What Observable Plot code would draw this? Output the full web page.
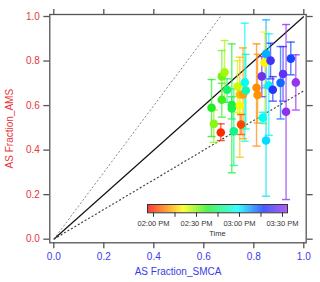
<!DOCTYPE html>
<html><head><meta charset="utf-8">
<script src="https://cdn.jsdelivr.net/npm/d3@7"></script>
<script src="https://cdn.jsdelivr.net/npm/@observablehq/plot@0.6"></script>
<style>
body{margin:0;background:#fff;}
#wrap{position:relative;width:320px;height:282px;font-family:"Liberation Sans",Arial,sans-serif;}
#wrap svg{display:block;}
#cb{position:absolute;left:136.7px;top:203px;}
</style>
</head><body><div id="wrap"><div id="main"></div><div id="cb"></div></div>
<script>
// ---- data ----
const times   = ["14:38","14:30","14:00","14:36","14:32","14:28","14:45","14:40","14:42","14:48","14:25","14:15","14:22","14:03","14:12","14:58","14:52","14:10","14:11","14:20","15:28","15:06","14:58","15:02","15:00","15:22","15:20","15:12","15:26","15:32","15:15","15:33"];
const smca    = [0.631,0.640,0.668,0.672,0.672,0.683,0.693,0.712,0.712,0.720,0.735,0.744,0.744,0.749,0.757,0.764,0.768,0.811,0.815,0.843,0.832,0.849,0.836,0.849,0.860,0.867,0.876,0.907,0.917,0.929,0.948,0.968];
const ams     = [0.590,0.518,0.479,0.626,0.731,0.749,0.671,0.602,0.587,0.484,0.686,0.650,0.599,0.515,0.650,0.704,0.668,0.680,0.648,0.793,0.731,0.832,0.545,0.443,0.690,0.802,0.671,0.702,0.742,0.572,0.811,0.704];
const amsLow  = [0.461,0.435,0.443,0.548,0.620,0.615,0.615,0.298,0.540,0.331,0.570,0.368,0.563,0.470,0.451,0.440,0.495,0.418,0.522,0.518,0.640,0.680,0.520,0.193,0.466,0.720,0.620,0.540,0.620,0.178,0.738,0.580];
const amsHigh = [0.717,0.580,0.518,0.700,0.847,0.892,0.720,0.877,0.640,0.675,0.802,0.817,0.640,0.560,0.859,0.970,0.830,0.877,0.830,0.930,0.820,0.985,0.570,0.690,0.922,0.880,0.730,0.865,0.865,0.964,0.885,0.828];
const refSlopes = [1, 1.5, 1/1.5];
const axisTicks = [0, 0.2, 0.4, 0.6, 0.8, 1.0];
const timeTicks = ["14:00","14:15","14:30","14:45","15:00","15:15","15:30"];
const timeTickLabels = ["02:00 PM","","02:30 PM","","03:00 PM","","03:30 PM"];
const colorStopTimes = ["13:55.8","14:09","14:21","14:38","14:59","15:17","15:33.5"];
const colorStopColors = ["#ff0000","#ff8000","#ffff00","#22ee22","#00ffff","#1530ff","#9933ee"];
const barRange = ["13:55.8","15:33.5"];

// ---- helpers ----
const toMin = s => { const [h, m] = s.split(":"); return (+h - 14) * 60 + +m; };
const pts = times.map((t, i) => ({t: toMin(t), x: smca[i], y: ams[i], lo: amsLow[i], hi: amsHigh[i]}));
const colorScale = {type: "linear", domain: colorStopTimes.map(toMin), range: colorStopColors};
const cap = {draw(ctx, size) { const w = Math.sqrt(size / Math.PI); ctx.moveTo(-w, 0); ctx.lineTo(w, 0); }};
const RED = "#e8353c", BLUE = "#3b3be6", FRAME = "#555";
const font = '"Liberation Sans", Arial, sans-serif';

const lineStyles = [
  {stroke: "#111", dash: null, width: 1.2},
  {stroke: "#888", dash: "2,2", width: 1},
  {stroke: "#444", dash: "2,2", width: 1.2}
];

const main = Plot.plot({
  width: 320, height: 282,
  marginLeft: 49.3, marginRight: 14.3, marginTop: 14, marginBottom: 39.7,
  insetLeft: 4, insetRight: 2.4, insetTop: 2, insetBottom: 3.6,
  x: {domain: [0, 1]}, y: {domain: [0, 1]},
  color: colorScale,
  style: {fontFamily: font, fontSize: "10px", background: "white", overflow: "visible"},
  marks: [
    ...refSlopes.map((s, i) => Plot.link([s], {
      x1: 0, y1: 0, x2: d => Math.min(1, 1 / d), y2: d => Math.min(1, d),
      stroke: lineStyles[i].stroke, strokeWidth: lineStyles[i].width, strokeDasharray: lineStyles[i].dash
    })),
    Plot.ruleX(pts, {x: "x", y1: "lo", y2: "hi", stroke: "t", strokeWidth: 1.4, strokeOpacity: 0.7}),
    Plot.dot(pts, {x: "x", y: "lo", symbol: cap, r: 4, stroke: "t", strokeWidth: 1.4, strokeOpacity: 0.8}),
    Plot.dot(pts, {x: "x", y: "hi", symbol: cap, r: 4, stroke: "t", strokeWidth: 1.4, strokeOpacity: 0.8}),
    Plot.dot(pts, {x: "x", y: "y", r: 4.3, fill: "t"}),
    Plot.frame({stroke: FRAME, strokeWidth: 1.3}),
    Plot.axisX({ticks: axisTicks, tickSize: 6, tickPadding: 4, tickFormat: ".1f", stroke: FRAME, strokeWidth: 1.3, fill: BLUE,
      label: "AS Fraction_SMCA", labelAnchor: "center", labelArrow: "none", labelOffset: 32}),
    Plot.axisX({anchor: "top", ticks: axisTicks, tickSize: 6, stroke: FRAME, strokeWidth: 1.3, fill: "none"}),
    Plot.axisY({ticks: axisTicks, tickSize: 6, tickPadding: 4, tickFormat: ".1f", stroke: FRAME, strokeWidth: 1.3, fill: RED,
      label: "AS Fraction_AMS", labelAnchor: "center", labelArrow: "none", labelOffset: 44}),
    Plot.axisY({anchor: "right", ticks: axisTicks, tickSize: 6, stroke: FRAME, strokeWidth: 1.3, fill: "none"})
  ]
});
document.getElementById("main").append(main);

// ---- color bar ----
const [b0, b1] = barRange.map(toMin);
const step = 0.25;
const cells = d3.range(b0, b1, step);
const tickMins = timeTicks.map(toMin);
const cb = Plot.plot({
  width: 160, height: 40,
  marginLeft: 10, marginRight: 10, marginTop: 1, marginBottom: 30.7,
  x: {domain: [b0, b1]}, y: {domain: [0, 1], axis: null},
  color: colorScale,
  style: {fontFamily: font, fontSize: "7.5px", background: "transparent", overflow: "visible"},
  marks: [
    Plot.rect(cells, {x1: d => d, x2: d => Math.min(b1, d + step + 0.05), y1: 0, y2: 1, fill: d => d + step / 2}),
    Plot.frame({stroke: "#333", strokeWidth: 1}),
    Plot.axisX({ticks: tickMins, tickSize: 4.5, tickPadding: 3, tickFormat: (d, i) => timeTickLabels[tickMins.indexOf(d)],
      stroke: "#333", fill: "#333", label: "Time", labelAnchor: "center", labelArrow: "none", labelOffset: 23})
  ]
});
document.getElementById("cb").append(cb);
</script>
</body></html>
